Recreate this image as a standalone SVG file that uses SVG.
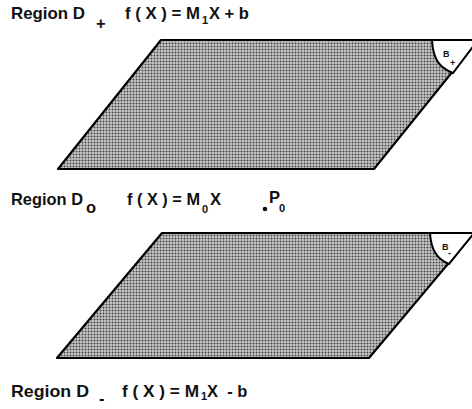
<svg xmlns="http://www.w3.org/2000/svg" width="472" height="409" viewBox="0 0 472 409">
<defs>
<pattern id="dots" width="3" height="3" patternUnits="userSpaceOnUse">
<rect width="3" height="3" fill="#e8e8e8"/>
<rect x="0.5" y="0.5" width="2" height="2" fill="#404040"/>
</pattern>
</defs>
<style>
.t{font-family:"Liberation Sans",Arial,sans-serif;font-weight:bold;font-size:16.5px;fill:#111}
.s{font-family:"Liberation Sans",Arial,sans-serif;font-weight:bold;font-size:11px;fill:#111}
.b{font-family:"Liberation Sans",Arial,sans-serif;font-weight:bold;font-size:9px;fill:#111}
.plane{fill:url(#dots);stroke:#000;stroke-width:2.2;stroke-linejoin:round}
.tab{fill:#fff;stroke:#000;stroke-width:2}
</style>
<rect width="472" height="409" fill="#fff"/>
<g id="plane-top">
<polygon class="plane" points="161,40 478,40 374,169 58,169"/>
<path class="tab" d="M432,40 C433,60 440,68 453,73 L478,40 Z"/>
<text class="b" x="443" y="57">B</text>
<text class="b" x="450" y="66" font-size="7">+</text>
</g>
<g id="plane-bottom">
<polygon class="plane" points="162,233 474,233 369,358 57,358"/>
<path class="tab" d="M430,233 C431,250 437,259 449,264 L474,233 Z"/>
<text class="b" x="442" y="250">B</text>
<text class="b" x="448" y="256" font-size="7">-</text>
</g>
<g id="label-top">
<text class="t" x="11" y="19" textLength="74" lengthAdjust="spacingAndGlyphs">Region D</text>
<text class="t" x="96" y="29" font-size="15">+</text>
<text class="t" x="125" y="19" xml:space="preserve" textLength="75" lengthAdjust="spacingAndGlyphs">f ( X ) = M</text>
<text class="s" x="202" y="24">1</text>
<text class="t" x="209" y="19" xml:space="preserve">X + b</text>
</g>
<g id="label-middle">
<text class="t" x="11" y="205" textLength="72" lengthAdjust="spacingAndGlyphs">Region D</text>
<text class="t" x="86" y="213" font-size="15">o</text>
<text class="t" x="127" y="205" xml:space="preserve" textLength="73" lengthAdjust="spacingAndGlyphs">f ( X ) = M</text>
<text class="s" x="202" y="213">0</text>
<text class="t" x="210" y="205">X</text>
<circle cx="265" cy="209" r="2.3" fill="#111"/>
<text class="t" x="269" y="203" font-size="14">P</text>
<text class="s" x="279" y="212">0</text>
</g>
<g id="label-bottom">
<text class="t" x="11" y="397" textLength="78" lengthAdjust="spacingAndGlyphs">Region D</text>
<text class="t" x="99" y="404">-</text>
<text class="t" x="122" y="397" xml:space="preserve" textLength="77" lengthAdjust="spacingAndGlyphs">f ( X ) = M</text>
<text class="s" x="201" y="400">1</text>
<text class="t" x="207" y="397" xml:space="preserve">X  - b</text>
</g>
</svg>
